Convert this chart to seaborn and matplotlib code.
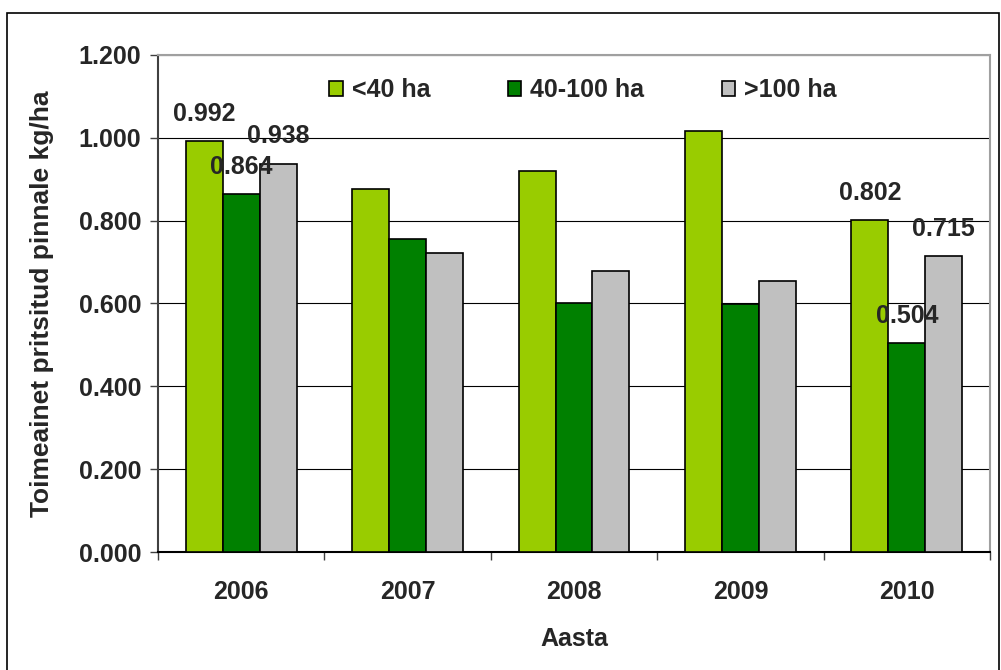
import matplotlib
matplotlib.use("Agg")
import matplotlib.pyplot as plt
from matplotlib.patches import Rectangle
import seaborn as sns
import pandas as pd

# Active substance applied per sprayed area, by farm size group
years = ["2006", "2007", "2008", "2009", "2010"]
groups = ["<40 ha", "40-100 ha", ">100 ha"]
small = [0.992, 0.876, 0.920, 1.016, 0.802]
medium = [0.864, 0.756, 0.601, 0.599, 0.504]
large = [0.938, 0.721, 0.678, 0.654, 0.715]
colors = ["#99CC00", "#008000", "#C0C0C0"]
labelled_years = ["2006", "2010"]

rows = []
for g, vals in zip(groups, [small, medium, large]):
    for y, v in zip(years, vals):
        rows.append({"Aasta": y, "group": g, "value": v})
df = pd.DataFrame(rows)

sns.set_theme(style="white")
plt.rcParams["font.family"] = ["Liberation Sans", "DejaVu Sans"]
plt.rcParams["font.weight"] = "bold"
FS = 18

W, H = 1001, 670
fig = plt.figure(figsize=(W / 100, H / 100), dpi=100)
ax = fig.add_axes([158 / W, 1 - 552 / H, (990 - 158) / W, (552 - 55) / H])

sns.barplot(data=df, x="Aasta", y="value", hue="group", order=years,
            hue_order=groups, palette=colors, width=2 / 3, saturation=1,
            edgecolor="black", linewidth=1.2, ax=ax, legend=True, zorder=3)

ax.set_xlim(-0.5, len(years) - 0.5)
ax.set_ylim(0, 1.2)
ax.set_yticks([i * 0.2 for i in range(7)])
ax.set_yticklabels([f"{i * 0.2:.3f}" for i in range(7)], fontsize=FS, fontweight="bold")
ax.yaxis.grid(True, color="black", linewidth=0.8, zorder=0)
ax.set_axisbelow(True)

# Year labels centred, tick marks on category boundaries
ax.set_xticks(range(len(years)))
ax.set_xticklabels(years, fontsize=FS, fontweight="bold")
ax.set_xticks([i - 0.5 for i in range(len(years) + 1)], minor=True)
ax.tick_params(axis="x", which="major", length=0, pad=20.5)
ax.tick_params(axis="x", which="minor", length=6, width=1, color="#404040", bottom=True)
ax.tick_params(axis="y", length=6, width=1, color="#404040", left=True, pad=6)

ax.set_xlabel("Aasta", fontsize=FS, fontweight="bold", labelpad=16)
ax.set_ylabel("Toimeainet pritsitud pinnale kg/ha", fontsize=19, fontweight="bold", labelpad=18)

for side in ["top", "right"]:
    ax.spines[side].set_visible(True)
    ax.spines[side].set_color("#A0A0A0")
    ax.spines[side].set_linewidth(1.5)
ax.spines["left"].set_color("#404040")
ax.spines["left"].set_linewidth(1.5)
ax.spines["bottom"].set_color("black")
ax.spines["bottom"].set_linewidth(1.5)

# Value labels for the first and last year
for container, g in zip(ax.containers, groups):
    for bar, y in zip(container, years):
        if y in labelled_years:
            h = bar.get_height()
            ax.annotate(f"{h:.3f}", (bar.get_x() + bar.get_width() / 2, h),
                        xytext=(0, 19.5), textcoords="offset points",
                        ha="center", va="center", fontsize=FS,
                        fontweight="bold", zorder=5)

ax.get_legend().remove()
handles = [Rectangle((0, 0), 1, 1, facecolor=c, edgecolor="black", linewidth=1.2)
           for c in colors]
fig.legend(handles, groups, loc="center left",
           bbox_to_anchor=(329 / W, 1 - 90 / H), ncol=3, frameon=False,
           prop={"weight": "bold", "size": FS},
           handlelength=0.55, handleheight=0.55, handletextpad=0.35,
           columnspacing=3.1, borderpad=0, borderaxespad=0)

# Chart border
fig.patches.append(Rectangle((7 / W, -0.05), (999 - 7) / W, 1.05 - 13 / H,
                             transform=fig.transFigure, fill=False,
                             edgecolor="black", linewidth=1.2))

fig.savefig("out.png", dpi=100)
